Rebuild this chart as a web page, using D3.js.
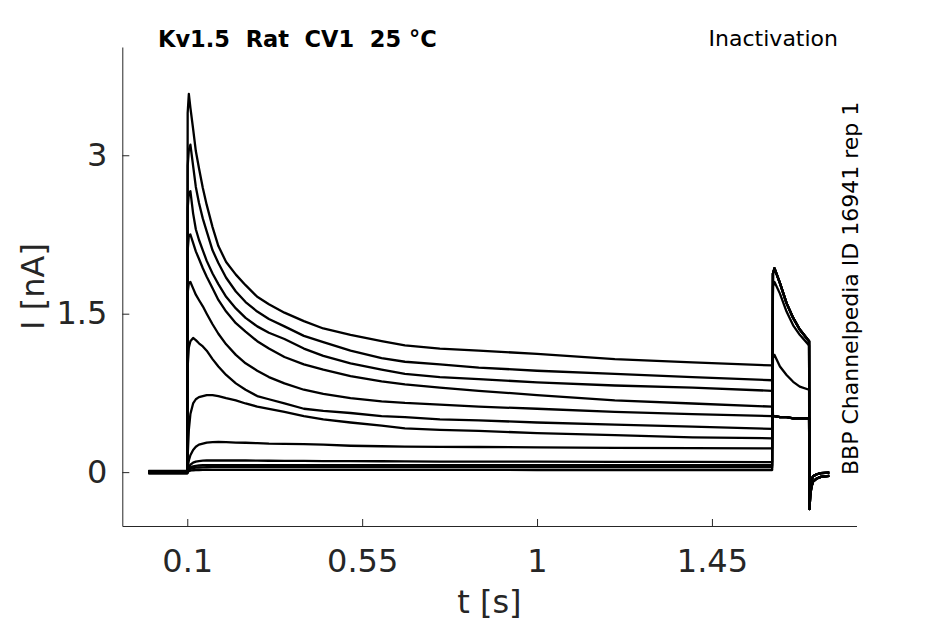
<!DOCTYPE html>
<html>
<head>
<meta charset="utf-8">
<script src="https://d3js.org/d3.v7.min.js"></script>
<style>
    body { margin: 0; background: #fff; }
    .trace { fill: none; stroke: #000; stroke-width: 2.3; stroke-linejoin: round; }
</style>
</head>
<body>
<script>
// ----- data (t in s, I in nA) -----
var xTicks = [0.1, 0.55, 1, 1.45];
var xTickLabels = ["0.1", "0.55", "1", "1.45"];
var yTicks = [0, 1.5, 3];
var yTickLabels = ["0", "1.5", "3"];

// holding level before the step, one offset per sweep (noise band)
var baseT = [0, 0.1];
var baseI = [0.012, 0.008, 0.004, 0, -0.004, -0.008, -0.012, 0.01, -0.01, 0.006, -0.006, 0];

// conditioning pulse
var pulseT = [0.101, 0.104, 0.108, 0.115, 0.122, 0.13, 0.14, 0.15, 0.165, 0.18, 0.2, 0.225, 0.25,
    0.28, 0.31, 0.35, 0.4, 0.45, 0.52, 0.6, 0.66, 0.75, 0.85, 1.0, 1.2, 1.4, 1.605];
var sweep1 = [3.40, 3.58, 3.45, 3.25, 3.04, 2.88, 2.69, 2.53, 2.32, 2.14, 1.99, 1.87, 1.77,
    1.66, 1.59, 1.51, 1.43, 1.36, 1.30, 1.24, 1.20, 1.17, 1.15, 1.12, 1.07, 1.04, 1.01];
var sweep2 = [2.90, 3.05, 3.10, 2.90, 2.70, 2.55, 2.40, 2.28, 2.10, 1.98, 1.84, 1.71, 1.61,
    1.52, 1.45, 1.38, 1.29, 1.23, 1.15, 1.08, 1.045, 1.02, 0.99, 0.96, 0.93, 0.90, 0.87];
var sweep3 = [2.50, 2.64, 2.66, 2.45, 2.30, 2.20, 2.10, 2.00, 1.88, 1.78, 1.66, 1.55, 1.46,
    1.38, 1.32, 1.26, 1.17, 1.10, 1.03, 0.97, 0.93, 0.90, 0.88, 0.85, 0.82, 0.80, 0.77];
var sweep4 = [2.10, 2.24, 2.25, 2.17, 2.09, 2.02, 1.93, 1.85, 1.74, 1.63, 1.52, 1.41, 1.33,
    1.24, 1.17, 1.09, 1.02, 0.97, 0.91, 0.86, 0.83, 0.80, 0.77, 0.73, 0.68, 0.65, 0.62];
var sweep5 = [1.70, 1.79, 1.80, 1.74, 1.68, 1.63, 1.57, 1.50, 1.40, 1.31, 1.21, 1.11, 1.03,
    0.96, 0.90, 0.84, 0.78, 0.74, 0.70, 0.67, 0.655, 0.64, 0.62, 0.60, 0.57, 0.55, 0.53];
var sweep6 = [1.00, 1.18, 1.24, 1.27, 1.25, 1.22, 1.19, 1.15, 1.07, 1.00, 0.92, 0.84, 0.78,
    0.72, 0.69, 0.65, 0.60, 0.58, 0.56, 0.53, 0.52, 0.50, 0.49, 0.47, 0.45, 0.43, 0.41];
var sweep7 = [0.15, 0.40, 0.55, 0.65, 0.69, 0.71, 0.72, 0.73, 0.73, 0.72, 0.70, 0.68, 0.65,
    0.62, 0.60, 0.57, 0.53, 0.50, 0.47, 0.44, 0.415, 0.40, 0.39, 0.37, 0.35, 0.33, 0.32];
var sweep8 = [0.05, 0.11, 0.16, 0.21, 0.24, 0.26, 0.27, 0.28, 0.285, 0.287, 0.285, 0.28, 0.278,
    0.274, 0.27, 0.268, 0.265, 0.26, 0.25, 0.245, 0.242, 0.24, 0.238, 0.235, 0.23, 0.228, 0.225];
var sweep9 = [0.02, 0.05, 0.07, 0.09, 0.10, 0.105, 0.108, 0.11, 0.11, 0.11, 0.11, 0.11, 0.11,
    0.108, 0.108, 0.107, 0.106, 0.105, 0.104, 0.103, 0.102, 0.10, 0.10, 0.099, 0.098, 0.097, 0.095];
var sweep10 = [0.01, 0.03, 0.045, 0.055, 0.06, 0.063, 0.065, 0.066, 0.067, 0.067, 0.067, 0.067, 0.067,
    0.067, 0.067, 0.067, 0.066, 0.066, 0.066, 0.066, 0.066, 0.066, 0.066, 0.066, 0.066, 0.066, 0.066];
var sweep11 = [0.005, 0.02, 0.03, 0.038, 0.042, 0.044, 0.045, 0.046, 0.047, 0.047, 0.047, 0.047, 0.047,
    0.047, 0.047, 0.047, 0.047, 0.047, 0.047, 0.047, 0.047, 0.047, 0.047, 0.047, 0.047, 0.047, 0.047];
var sweep12 = [0, 0.01, 0.015, 0.018, 0.02, 0.02, 0.021, 0.021, 0.021, 0.021, 0.021, 0.021, 0.021,
    0.021, 0.021, 0.021, 0.021, 0.021, 0.021, 0.021, 0.021, 0.021, 0.021, 0.02, 0.02, 0.02, 0.02];

// test pulse, four distinct responses
var testT = [1.607, 1.611, 1.625, 1.642, 1.659, 1.676, 1.70];
var testFull = [1.88, 1.93, 1.79, 1.60, 1.46, 1.35, 1.24];
var testHigh = [1.76, 1.80, 1.69, 1.52, 1.39, 1.30, 1.20];
var testMid = [1.08, 1.11, 1.00, 0.92, 0.855, 0.81, 0.78];
var testLow = [0.53, 0.53, 0.52, 0.52, 0.51, 0.51, 0.51];

// tail after the test pulse
var tailT = [1.701, 1.703, 1.706, 1.71, 1.72, 1.73, 1.752];
var tailDeep = [-0.35, -0.22, -0.14, -0.09, -0.06, -0.045, -0.035];
var tailShallow = [-0.30, -0.15, -0.08, -0.04, -0.02, -0.01, -0.005];

var pulses = [sweep1, sweep2, sweep3, sweep4, sweep5, sweep6, sweep7, sweep8, sweep9, sweep10, sweep11, sweep12];
var tests = [testLow, testLow, testLow, testLow, testLow, testMid, testHigh, testFull, testFull, testFull, testFull, testFull];
var tails = [tailShallow, tailShallow, tailShallow, tailShallow, tailShallow, tailShallow, tailDeep, tailDeep, tailDeep, tailDeep, tailDeep, tailDeep];

// build one point list per sweep
var sweeps = pulses.map(function (p, k) {
    var pts = [];
    baseT.forEach(function (t) { pts.push([t, baseI[k]]); });
    pulseT.forEach(function (t, i) { pts.push([t, p[i]]); });
    testT.forEach(function (t, i) { pts.push([t, tests[k][i]]); });
    tailT.forEach(function (t, i) { pts.push([t, tails[k][i]]); });
    return pts;
});

//---------setup plot-----------------------//
var width = 945, height = 624;
var plot = {left: 122.3, right: 856.5, top: 47, bottom: 526};
var font = "'DejaVu Sans', sans-serif";
var axisColor = "#262626";

var x = d3.scaleLinear()
    .domain([-0.0672, 1.822])
    .range([plot.left, plot.right]);

var y = d3.scaleLinear()
    .domain([-0.51, 4.025])
    .range([plot.bottom, plot.top]);

var svg = d3.select("body").append("svg")
    .attr("width", width)
    .attr("height", height);

// x-axis, ticks pointing inwards
var gx = svg.append("g")
    .attr("transform", "translate(0," + plot.bottom + ")")
    .call(d3.axisBottom(x)
        .tickValues(xTicks)
        .tickFormat(function (d, i) { return xTickLabels[i]; })
        .tickSize(-7)
        .tickSizeOuter(0)
        .tickPadding(23));

// y-axis
var gy = svg.append("g")
    .attr("transform", "translate(" + plot.left + ",0)")
    .call(d3.axisLeft(y)
        .tickValues(yTicks)
        .tickFormat(function (d, i) { return yTickLabels[i]; })
        .tickSize(-7)
        .tickSizeOuter(0)
        .tickPadding(15));

[gx, gy].forEach(function (g) {
    g.attr("font-family", font).attr("font-size", 32);
    g.select(".domain").attr("stroke", axisColor).attr("stroke-width", 1);
    g.selectAll(".tick line").attr("stroke", axisColor).attr("stroke-width", 1);
    g.selectAll(".tick text").attr("fill", axisColor);
});

// axis labels
svg.append("text")
    .attr("x", (plot.left + plot.right) / 2)
    .attr("y", 613)
    .attr("text-anchor", "middle")
    .attr("font-family", font)
    .attr("font-size", 32)
    .attr("fill", axisColor)
    .text("t [s]");

svg.append("text")
    .attr("transform", "translate(44," + ((plot.top + plot.bottom) / 2) + ") rotate(-90)")
    .attr("text-anchor", "middle")
    .attr("font-family", font)
    .attr("font-size", 32)
    .attr("fill", axisColor)
    .text("I [nA]");

//-------------traces----------//
var line = d3.line()
    .x(function (d) { return x(d[0]); })
    .y(function (d) { return y(d[1]); });

svg.append("g")
    .selectAll("path")
    .data(sweeps)
    .join("path")
    .attr("class", "trace")
    .attr("d", line);

// titles
svg.append("text")
    .attr("x", 158)
    .attr("y", 47)
    .attr("font-family", font)
    .attr("font-weight", "bold")
    .attr("font-size", 22.5)
    .attr("fill", "#000")
    .attr("xml:space", "preserve")
    .style("white-space", "pre")
    .text("Kv1.5  Rat  CV1  25 °C");

svg.append("text")
    .attr("x", 838)
    .attr("y", 46)
    .attr("text-anchor", "end")
    .attr("font-family", font)
    .attr("font-size", 22)
    .attr("fill", "#000")
    .text("Inactivation");

svg.append("text")
    .attr("transform", "translate(858,475) rotate(-90)")
    .attr("font-family", font)
    .attr("font-size", 22)
    .attr("fill", "#000")
    .text("BBP Channelpedia ID 16941 rep 1");
</script>
</body>
</html>
